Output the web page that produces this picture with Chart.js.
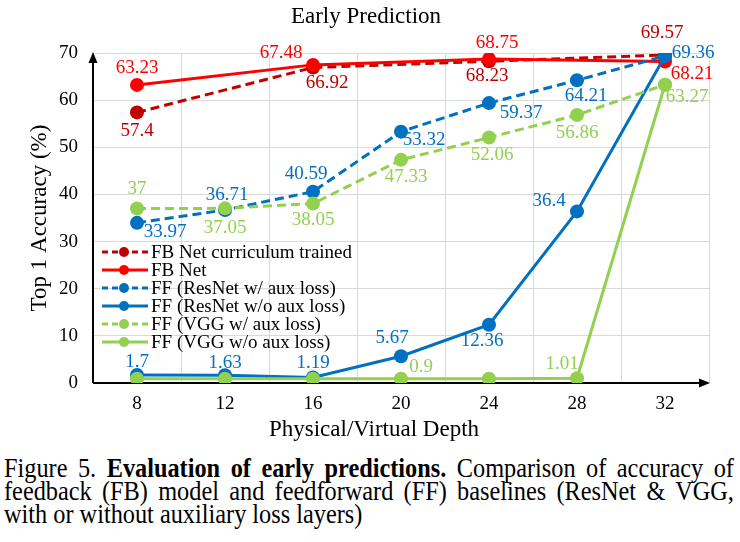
<!DOCTYPE html>
<html>
<head>
<meta charset="utf-8">
<script src="https://cdn.jsdelivr.net/npm/chart.js@4/dist/chart.umd.min.js"></script>
<style>
html,body{margin:0;padding:0;background:#fff;}
#wrap{position:relative;width:740px;height:542px;overflow:hidden;background:#fff;}
#c{position:absolute;left:0;top:0;}
#cap{position:absolute;left:4px;top:457px;width:811px;transform:scaleX(0.9);transform-origin:0 0;font-family:"Liberation Serif","Times New Roman",serif;font-size:27px;line-height:23px;color:#000;}
#cap div{text-align:justify;text-align-last:justify;}
#cap div.last{text-align:left;text-align-last:left;}
</style>
</head>
<body>
<div id="wrap">
<canvas id="c" width="740" height="445"></canvas>
<div id="cap">
<div>Figure 5. <b>Evaluation of early predictions.</b> Comparison of accuracy of</div>
<div>feedback (FB) model and feedforward (FF) baselines (ResNet &amp; VGG,</div>
<div class="last">with or without auxiliary loss layers)</div>
</div>
</div>
<script>
// ---- data ----
const categories = ['8', '12', '16', '20', '24', '28', '32'];
const seriesNames = [
  'FB Net curriculum trained',
  'FB Net',
  'FF (ResNet w/ aux loss)',
  'FF (ResNet w/o aux loss)',
  'FF (VGG w/ aux loss)',
  'FF (VGG w/o aux loss)'
];
const fbCurriculum  = [57.4, null, 66.92, null, 68.23, null, 69.57];
const fbNet         = [63.23, null, 67.48, null, 68.75, null, 68.21];
const ffResNetAux   = [33.97, 36.71, 40.59, 53.32, 59.37, 64.21, 69.36];
const ffResNetNoAux = [1.7, 1.63, 1.19, 5.67, 12.36, 36.4, 69.36];
const ffVggAux      = [37, 37.05, 38.05, 47.33, 52.06, 56.86, 63.27];
const ffVggNoAux    = [0.9, 0.9, 0.9, 0.9, 0.9, 1.01, 63.27];
const yTicks = [0, 10, 20, 30, 40, 50, 60, 70];

// ---- styles ----
const colors = ['#C00000', '#FF0000', '#0070C0', '#0070C0', '#92D050', '#92D050'];
const dashed = [true, false, true, false, true, false];
// label offsets (dx, dy) in px relative to the point; null = no label
const labelOffsets = [
  [[0,19], null, [14,15], null, [-2,15], null, [-3,-22]],
  [[0,-17], null, [-32,-12], null, [8,-16], null, [27,13]],
  [[28,9], [2,-15], [-7,-18], [23,8], [32,10], [9,16], [28,-3]],
  [[0,-13], [0,-12], [0,-14], [-9,-18], [-7,16], [-28,-10], null],
  [[0,-20], [0,20], [0,16], [5,17], [3,17], [0,18], [22,12]],
  [null, null, null, [20,-12], null, [-15,-14], null]
];
const serif = '"Liberation Serif", "Times New Roman", serif';
const allData = [fbCurriculum, fbNet, ffResNetAux, ffResNetNoAux, ffVggAux, ffVggNoAux];

const datasets = allData.map((d, i) => ({
  label: seriesNames[i],
  data: d,
  borderColor: colors[i],
  backgroundColor: colors[i],
  borderWidth: 3,
  borderDash: dashed[i] ? [9, 5] : [],
  pointRadius: 7,
  pointHoverRadius: 7,
  pointBorderWidth: 0,
  pointBackgroundColor: colors[i],
  spanGaps: true,
  tension: 0,
  fill: false,
  order: allData.length - i
}));

const decorPlugin = {
  id: 'decor',
  beforeDatasetsDraw(chart) {
    const ctx = chart.ctx, a = chart.chartArea;
    ctx.save();
    ctx.strokeStyle = '#000'; ctx.fillStyle = '#000'; ctx.lineWidth = 2; ctx.setLineDash([]);
    // y axis with arrow
    ctx.beginPath(); ctx.moveTo(a.left, a.bottom); ctx.lineTo(a.left, a.top + 6); ctx.stroke();
    ctx.beginPath(); ctx.moveTo(a.left, a.top - 1); ctx.lineTo(a.left - 4.5, a.top + 10); ctx.lineTo(a.left + 4.5, a.top + 10); ctx.closePath(); ctx.fill();
    // x axis with arrow
    ctx.beginPath(); ctx.moveTo(a.left, a.bottom); ctx.lineTo(a.right - 6, a.bottom); ctx.stroke();
    ctx.beginPath(); ctx.moveTo(a.right + 1, a.bottom); ctx.lineTo(a.right - 10, a.bottom - 4.5); ctx.lineTo(a.right - 10, a.bottom + 4.5); ctx.closePath(); ctx.fill();
    ctx.restore();
  },
  afterDatasetsDraw(chart) {
    const ctx = chart.ctx;
    ctx.save();
    // data labels
    ctx.font = '19px ' + serif;
    ctx.textAlign = 'center';
    ctx.textBaseline = 'middle';
    chart.data.datasets.forEach((ds, i) => {
      const meta = chart.getDatasetMeta(i);
      meta.data.forEach((pt, j) => {
        const v = ds.data[j];
        const off = labelOffsets[i][j];
        if (v === null || !off) return;
        ctx.fillStyle = colors[i];
        ctx.fillText(String(v), pt.x + off[0], pt.y + off[1]);
      });
    });
    // legend
    chart.data.datasets.forEach((ds, i) => {
      const y = 252 + i * 18;
      ctx.strokeStyle = colors[i];
      ctx.lineWidth = 3;
      ctx.setLineDash(dashed[i] ? [6, 4] : []);
      ctx.beginPath(); ctx.moveTo(102, y); ctx.lineTo(148, y); ctx.stroke();
      ctx.setLineDash([]);
      ctx.fillStyle = colors[i];
      ctx.beginPath(); ctx.arc(124, y, 5, 0, Math.PI * 2); ctx.fill();
      ctx.fillStyle = '#000';
      ctx.textAlign = 'left';
      ctx.fillText(ds.label, 151, y + 1);
    });
    // titles
    ctx.fillStyle = '#000';
    ctx.textAlign = 'center';
    ctx.font = '23px ' + serif;
    ctx.fillText('Early Prediction', 366, 17);
    ctx.fillText('Physical/Virtual Depth', 374, 430);
    ctx.translate(40, 218);
    ctx.rotate(-Math.PI / 2);
    ctx.fillText('Top 1 Accuracy (%)', 0, 0);
    ctx.restore();
  }
};

new Chart(document.getElementById('c'), {
  type: 'line',
  data: { labels: categories, datasets },
  plugins: [decorPlugin],
  options: {
    responsive: false,
    animation: false,
    layout: { padding: { top: 53, right: 31, left: 0, bottom: 0 } },
    plugins: {
      legend: { display: false },
      title: { display: false },
      tooltip: { enabled: false }
    },
    scales: {
      x: {
        type: 'category',
        offset: true,
        afterFit: s => { s.height = 62; },
        grid: { offset: true, color: '#D9D9D9', lineWidth: 1, drawTicks: false },
        border: { display: false },
        ticks: { color: '#000', font: { family: serif, size: 19 }, padding: 10, maxRotation: 0 }
      },
      y: {
        min: 0,
        max: 70,
        afterFit: s => { s.width = 93; },
        afterBuildTicks: s => { s.ticks = yTicks.map(v => ({ value: v })); },
        grid: { color: '#D9D9D9', lineWidth: 1, drawTicks: false },
        border: { display: false },
        ticks: { color: '#000', font: { family: serif, size: 19 }, padding: 15 }
      }
    }
  }
});
</script>
</body>
</html>
